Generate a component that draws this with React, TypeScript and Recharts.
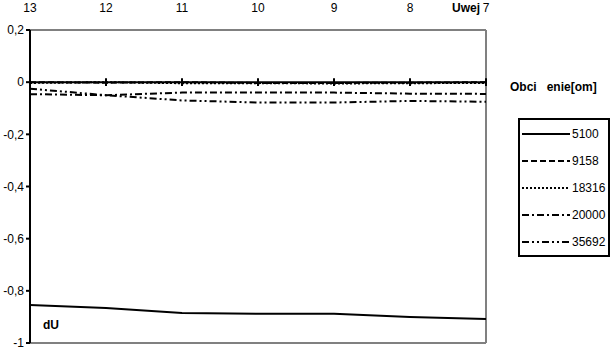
import { LineChart, Line, XAxis, YAxis, ReferenceLine } from "recharts";

const inputs = [13, 12, 11, 10, 9, 8, 7];
const yTicks = [0.2, 0, -0.2, -0.4, -0.6, -0.8, -1];

const r5100 = [-0.854, -0.866, -0.885, -0.888, -0.888, -0.9, -0.908];
const r9158 = [0, -0.002, 0, -0.003, -0.003, -0.002, 0];
const r18316 = [-0.003, 0, -0.004, -0.004, -0.005, -0.004, -0.003];
const r20000 = [-0.046, -0.05, -0.04, -0.04, -0.04, -0.044, -0.045];
const r35692 = [-0.025, -0.05, -0.07, -0.078, -0.078, -0.072, -0.075];

const series = [
  { key: "s5100", name: "5100", values: r5100, dash: "" },
  { key: "s9158", name: "9158", values: r9158, dash: "6 3" },
  { key: "s18316", name: "18316", values: r18316, dash: "2 2" },
  { key: "s20000", name: "20000", values: r20000, dash: "7 3 2 3" },
  { key: "s35692", name: "35692", values: r35692, dash: "7 3 2 3 2 3" },
];

const data = inputs.map((x, i) => {
  const row: Record<string, number> = { x };
  series.forEach((s) => (row[s.key] = s.values[i]));
  return row;
});

const font = "'Liberation Sans', Arial, sans-serif";

const TopTick = (props: any) => {
  const { x, payload } = props;
  return (
    <g>
      {payload.value === 7 && (
        <text x={x - 6} y={12} textAnchor="end" fontSize={12} fontWeight="bold" fill="#000" fontFamily={font}>
          Uwej
        </text>
      )}
      <text x={x} y={12} textAnchor="middle" fontSize={12} fill="#000" fontFamily={font}>
        {payload.value}
      </text>
    </g>
  );
};

export default function App() {
  return (
    <div style={{ position: "absolute", left: 0, top: 0, width: 611, height: 354, background: "#fff" }}>
      <LineChart width={611} height={354} data={data} margin={{ top: 0, right: 125, bottom: 11, left: 0 }}>
        <XAxis
          dataKey="x"
          type="number"
          domain={[7, 13]}
          reversed
          ticks={inputs}
          orientation="top"
          height={30}
          axisLine={false}
          tickLine={false}
          tick={<TopTick />}
        />
        <YAxis
          type="number"
          domain={[-1, 0.2]}
          ticks={yTicks}
          width={30}
          axisLine={{ stroke: "#000", strokeWidth: 2 }}
          tickLine={{ stroke: "#000", strokeWidth: 2 }}
          tickSize={4}
          tickFormatter={(v: number) => String(v).replace(".", ",")}
          tick={{ fontSize: 12, fill: "#000", fontFamily: font }}
          interval={0}
        />
        <ReferenceLine y={0.2} stroke="#808080" strokeWidth={2} />
        <ReferenceLine y={-1} stroke="#808080" strokeWidth={2} />
        <ReferenceLine x={7} stroke="#808080" strokeWidth={2} />
        <ReferenceLine y={0} stroke="#000" strokeWidth={2} />
        {inputs.slice(1).map((t) => (
          <ReferenceLine
            key={t}
            segment={[
              { x: t, y: 0.015 },
              { x: t, y: -0.015 },
            ]}
            stroke="#000"
            strokeWidth={2}
          />
        ))}
        {series.map((s) => (
          <Line
            key={s.key}
            dataKey={s.key}
            name={s.name}
            type="linear"
            stroke="#000"
            strokeWidth={2}
            strokeDasharray={s.dash || undefined}
            dot={false}
            isAnimationActive={false}
          />
        ))}
      </LineChart>
      <div style={{ position: "absolute", left: 510, top: 80, fontFamily: font, fontSize: 12, fontWeight: "bold", whiteSpace: "pre" }}>
        {"Obci   enie[om]"}
      </div>
      <div style={{ position: "absolute", left: 43, top: 318, fontFamily: font, fontSize: 12, fontWeight: "bold" }}>dU</div>
      <div
        style={{
          position: "absolute",
          left: 518,
          top: 118,
          width: 88,
          height: 135,
          border: "2px solid #000",
          fontFamily: font,
          fontSize: 12,
        }}
      >
        {series.map((s, i) => (
          <div key={s.key} style={{ position: "absolute", left: 2, top: 7 + i * 27, height: 14, display: "flex", alignItems: "center" }}>
            <svg width={48} height={14}>
              <line x1={0} y1={7} x2={48} y2={7} stroke="#000" strokeWidth={2} strokeDasharray={s.dash || undefined} />
            </svg>
            <span style={{ marginLeft: 2 }}>{s.name}</span>
          </div>
        ))}
      </div>
    </div>
  );
}
